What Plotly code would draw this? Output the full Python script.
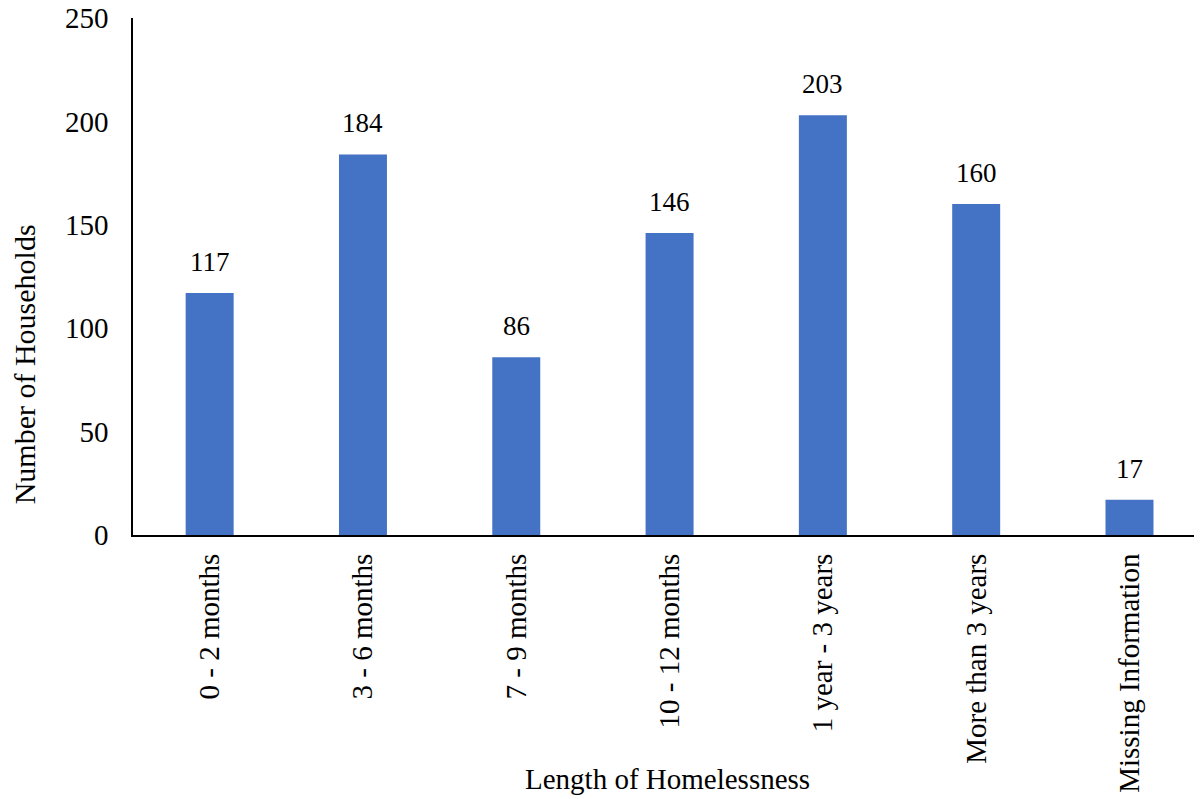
import plotly.graph_objects as go

categories = ["0 - 2 months", "3 - 6 months", "7 - 9 months", "10 - 12 months",
              "1 year - 3 years", "More than 3 years", "Missing Information"]
households = [117, 184, 86, 146, 203, 160, 17]
y_ticks = [0, 50, 100, 150, 200, 250]

FONT = "Liberation Serif, Times New Roman, serif"

fig = go.Figure(go.Bar(
    x=categories, y=households, width=0.313,
    marker=dict(color="#4472C4", line=dict(width=0)),
))

# data labels
for c, v in zip(categories, households):
    fig.add_annotation(x=c, y=v, text=str(v), showarrow=False, yanchor="bottom",
                       yshift=14, font=dict(family=FONT, size=27, color="black"))

# axis titles
fig.add_annotation(x=0.5, xref="paper", y=-0.471, yref="paper", text="Length of Homelessness",
                   showarrow=False, xanchor="center", yanchor="middle",
                   font=dict(family=FONT, size=29, color="black"))
fig.add_annotation(x=-0.102, xref="paper", y=0.33, yref="paper", text="Number of Households",
                   showarrow=False, textangle=-90, xanchor="center", yanchor="middle",
                   font=dict(family=FONT, size=30, color="black"))

fig.update_layout(
    width=1194, height=791,
    margin=dict(l=125, r=0, t=10, b=264, autoexpand=False),
    plot_bgcolor="white", paper_bgcolor="white",
    font=dict(family=FONT, size=29, color="black"),
    showlegend=False,
)
fig.update_xaxes(
    range=[-0.5, 6.473], showline=True, linecolor="black", linewidth=2,
    tickangle=-90, ticks="", tickfont=dict(family=FONT, size=29, color="black"),
    ticklabelstandoff=5, automargin=False, showgrid=False, zeroline=False,
)
fig.update_yaxes(
    range=[0, 250], tickvals=y_ticks, showline=True, linecolor="black", linewidth=1.5,
    ticks="", tickfont=dict(family=FONT, size=29, color="black"),
    ticklabelstandoff=17, ticklabeloverflow="allow", automargin=False,
    showgrid=False, zeroline=False,
)

fig.write_html("out.html")
